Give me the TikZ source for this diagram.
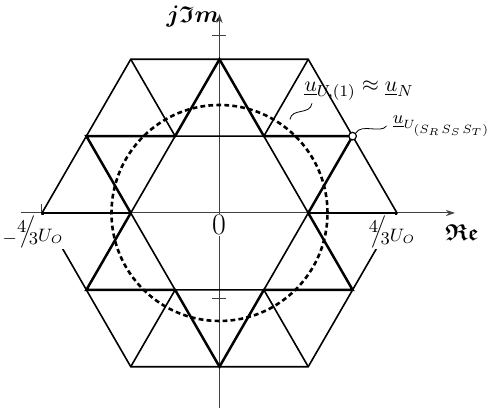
\documentclass[tikz,border=0pt]{standalone}
\usepackage{amsmath}
\usepackage{amssymb}
\usetikzlibrary{arrows.meta}

\begin{document}
\begin{tikzpicture}[x=0.5pt,y=0.5pt,
  axisline/.style={line width=0.5pt,black!75},
  hexline/.style={line width=0.8pt},
  starline/.style={line width=1.25pt,line join=miter},
  lbl/.style={font=\fontsize{11}{13}\selectfont,inner sep=1pt},
  fraclbl/.style={font=\fontsize{9}{11}\selectfont,fill=white,inner sep=0.5pt,anchor=north},
  axlbl/.style={font=\fontsize{11.5}{13}\selectfont,inner sep=0pt}]
  \useasboundingbox (-219.5,-198) rectangle (275.5,213);
  \draw[axisline,-{Stealth[length=4.5pt,width=3pt]}] (-198.5,0)--(235.5,0);
  \draw[axisline,-{Stealth[length=4.5pt,width=3pt]}] (0,-195)--(0,199);
  \draw[axisline] (-7,177.5)--(7,177.5);
  \draw[axisline] (-7,-86)--(7,-86);
  \draw[axisline] (-177.5,-7)--(-177.5,9);
  \draw[hexline] (0:177.5) \foreach \a in {60,120,...,300}{--(\a:177.5)} --cycle;
  \foreach \a in {0,60,...,300}{\draw[hexline] (\a:177.5)--(\a:88.75);}
  \draw[hexline] (0:88.75) \foreach \a in {60,120,...,300}{--(\a:88.75)} --cycle;
  \draw[starline] (0:88.75) \foreach \a in {30,90,...,330}{--(\a:153.7)--({\a+30}:88.75)} --cycle;
  \draw[line width=1.3pt,dash pattern=on 2.4pt off 1.6pt] (0,0) circle (54pt);
  \node[draw,circle,fill=white,inner sep=0pt,minimum size=3.8pt,line width=0.6pt] (tip) at (30:153.7) {};
  \coordinate (onring) at (53:117);
  \node[lbl] (fund) at (139.5,122) {$\underline{u}_{U,(1)}\approx\underline{u}_N$};
  \node[lbl,font=\fontsize{9.2}{11}\selectfont,anchor=west] (state) at (171,87) {$\underline{u}_{U_{\scriptstyle(S_R\mkern2mu S_S\mkern2mu S_T)}}$};
  \draw[line width=0.4pt] ([xshift=5pt]fund.south west) .. controls +(-2,-12) and +(2,12) .. (onring);
  \draw[line width=0.4pt] (tip.north east) .. controls +(6,10) and +(-6,-8) .. ([xshift=-2pt]state.west);
  \node[font=\fontsize{15}{17}\selectfont,fill=white,inner sep=0.5pt] (orig) at (-0.5,-12) {0};
  \node[fraclbl] (negmax) at (-186.5,-1.5) {$\raisebox{-1pt}{$-$}\raisebox{4.5pt}{$4$}\!\!\raisebox{2.5pt}{$\Big/$}\!\!\raisebox{-1.5pt}{$3$}U_O$};
  \node[fraclbl] (posmax) at (172.5,-1.5) {$\raisebox{4.5pt}{$4$}\!\!\raisebox{2.5pt}{$\Big/$}\!\!\raisebox{-1.5pt}{$3$}U_O$};
  \node[axlbl] (imlbl) at (-26.5,196) {$\boldsymbol{j\mathfrak{I}m}$};
  \node[axlbl] (relbl) at (242.5,-20) {$\boldsymbol{\mathfrak{Re}}$};
\end{tikzpicture}
\end{document}
